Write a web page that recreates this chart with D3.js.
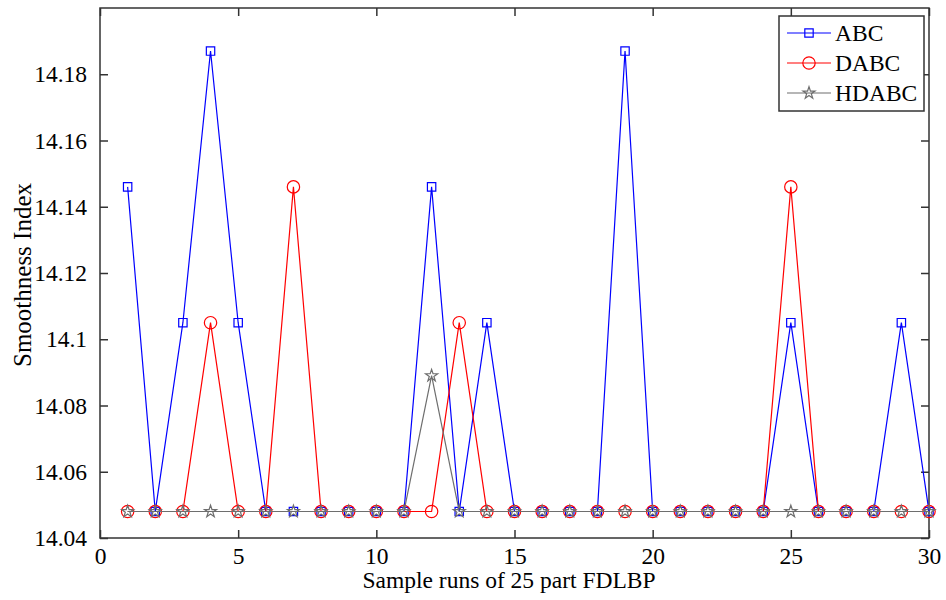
<!DOCTYPE html>
<html lang="en">
<head>
<meta charset="utf-8">
<title>Smoothness Index</title>
<script src="https://cdn.jsdelivr.net/npm/d3@7"></script>
<style>
  body { margin: 0; background: #fff; }
  svg text { font-family: 'Liberation Serif', 'Times New Roman', serif; fill: #000; }
</style>
</head>
<body>
<div id="chart"></div>
<script>

/* Data */
var runs = d3.range(1, 31);

var abc = [14.146, 14.048, 14.105, 14.187, 14.105, 14.048, 14.048, 14.048, 14.048, 14.048,
           14.048, 14.146, 14.048, 14.105, 14.048, 14.048, 14.048, 14.048, 14.187, 14.048,
           14.048, 14.048, 14.048, 14.048, 14.105, 14.048, 14.048, 14.048, 14.105, 14.048];

var dabc = [14.048, 14.048, 14.048, 14.105, 14.048, 14.048, 14.146, 14.048, 14.048, 14.048,
            14.048, 14.048, 14.105, 14.048, 14.048, 14.048, 14.048, 14.048, 14.048, 14.048,
            14.048, 14.048, 14.048, 14.048, 14.146, 14.048, 14.048, 14.048, 14.048, 14.048];

var hdabc = [14.048, 14.048, 14.048, 14.048, 14.048, 14.048, 14.048, 14.048, 14.048, 14.048,
             14.048, 14.089, 14.048, 14.048, 14.048, 14.048, 14.048, 14.048, 14.048, 14.048,
             14.048, 14.048, 14.048, 14.048, 14.048, 14.048, 14.048, 14.048, 14.048, 14.048];

var xTicks = [0, 5, 10, 15, 20, 25, 30];
var yTicks = [14.04, 14.06, 14.08, 14.1, 14.12, 14.14, 14.16, 14.18];
var yTickLabels = ['14.04', '14.06', '14.08', '14.1', '14.12', '14.14', '14.16', '14.18'];

var seriesNames = ['ABC', 'DABC', 'HDABC'];


/* Layout */
var width = 946, height = 600;
var margin = { top: 8, right: 17, bottom: 62, left: 100 };
var plotW = width - margin.left - margin.right,
    plotH = height - margin.top - margin.bottom;

var svg = d3.select('#chart').append('svg')
    .attr('width', width)
    .attr('height', height);

var g = svg.append('g')
    .attr('transform', 'translate(' + margin.left + ',' + margin.top + ')');

var x = d3.scaleLinear().domain([0, 30]).range([0, plotW]);
var y = d3.scaleLinear().domain([14.04, 14.2]).range([plotH, 0]);

// Axes (ticks inward, mirrored on top/right)
var fontSize = 23.5;
var tickLen = 8;

var xAxis = g.append('g')
    .attr('transform', 'translate(0,' + plotH + ')')
    .call(d3.axisBottom(x).tickValues(xTicks).tickFormat(d3.format('d')).tickSize(-tickLen).tickPadding(tickLen + 1));

var yAxis = g.append('g')
    .call(d3.axisLeft(y).tickValues(yTicks)
      .tickFormat(function(d, i) { return yTickLabels[i]; })
      .tickSize(-tickLen).tickPadding(tickLen + 5));

var xTop = g.append('g')
    .call(d3.axisTop(x).tickValues(xTicks).tickFormat('').tickSize(-tickLen));

var yRight = g.append('g')
    .attr('transform', 'translate(' + plotW + ',0)')
    .call(d3.axisRight(y).tickValues(yTicks).tickFormat('').tickSize(-tickLen));

[xAxis, yAxis, xTop, yRight].forEach(function(a) {
  a.select('.domain').remove();
  a.selectAll('line').attr('stroke', '#333').attr('stroke-width', 1.5);
  a.selectAll('text').style('font-size', fontSize + 'px').attr('fill', '#000');
});

// Frame
g.append('rect')
    .attr('width', plotW)
    .attr('height', plotH)
    .attr('fill', 'none')
    .attr('stroke', '#333')
    .attr('stroke-width', 1.5);

// Axis titles
svg.append('text')
    .attr('x', 509)
    .attr('y', 588)
    .attr('text-anchor', 'middle')
    .style('font-size', '23.5px')
    .text('Sample runs of 25 part FDLBP');

svg.append('text')
    .attr('transform', 'translate(31,275) rotate(-90)')
    .attr('text-anchor', 'middle')
    .style('font-size', '25px')
    .text('Smoothness Index');


/* Series */
var series = [
  { name: seriesNames[0], values: abc, color: '#0000ff', marker: 'square' },
  { name: seriesNames[1], values: dabc, color: '#ff0000', marker: 'circle' },
  { name: seriesNames[2], values: hdabc, color: '#6e6e6e', marker: 'star' }
];

var line = d3.line()
    .x(function(d, i) { return x(runs[i]); })
    .y(function(d) { return y(d); });

var symbolFor = {
  square: d3.symbol().type(d3.symbolSquare).size(70),
  circle: d3.symbol().type(d3.symbolCircle).size(120),
  star: d3.symbol().type(d3.symbolStar).size(45)
};

function drawMarker(sel, s) {
  sel.append('path')
    .attr('d', symbolFor[s.marker]())
    .attr('fill', 'none')
    .attr('stroke', s.color)
    .attr('stroke-width', 1.2);
}

series.forEach(function(s) {
  g.append('path')
    .datum(s.values)
    .attr('d', line)
    .attr('fill', 'none')
    .attr('stroke', s.color)
    .attr('stroke-width', 1.2);

  s.values.forEach(function(v, i) {
    var m = g.append('g')
      .attr('transform', 'translate(' + x(runs[i]) + ',' + y(v) + ')');
    drawMarker(m, s);
  });
});


/* Legend */
var legend = svg.append('g').attr('transform', 'translate(779,16)');

legend.append('rect')
    .attr('width', 145)
    .attr('height', 95)
    .attr('fill', '#fff')
    .attr('stroke', '#333')
    .attr('stroke-width', 1.5);

series.forEach(function(s, i) {
  var row = legend.append('g').attr('transform', 'translate(0,' + (17 + i * 30) + ')');
  row.append('line')
    .attr('x1', 8).attr('x2', 52)
    .attr('stroke', s.color)
    .attr('stroke-width', 1.2);
  var m = row.append('g').attr('transform', 'translate(30,0)');
  drawMarker(m, s);
  row.append('text')
    .attr('x', 56)
    .attr('dy', '0.35em')
    .style('font-size', fontSize + 'px')
    .text(s.name);
});

</script>
</body>
</html>
